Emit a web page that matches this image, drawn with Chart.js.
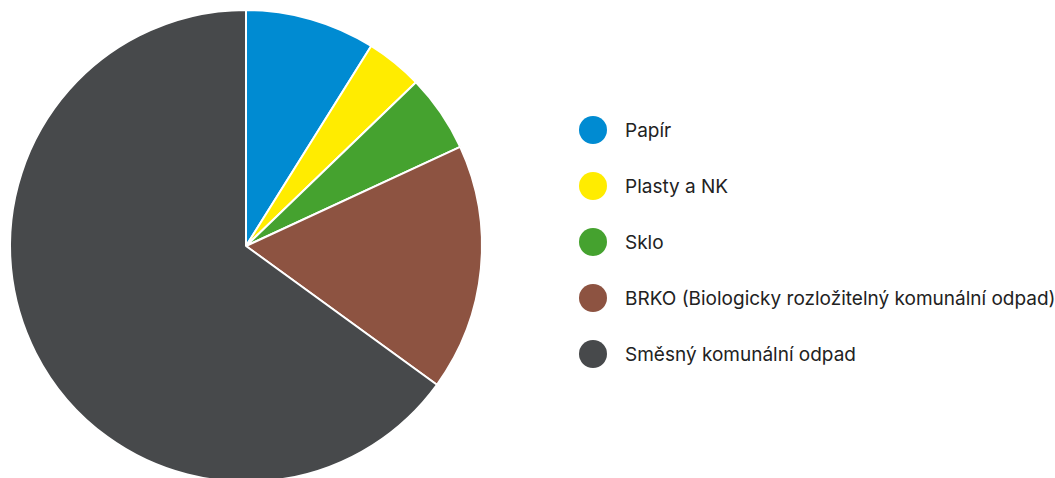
<!DOCTYPE html>
<html>
<head>
<meta charset="utf-8">
<script src="https://cdn.jsdelivr.net/npm/chart.js@4"></script>
<style>
    html, body { margin: 0; padding: 0; background: #fff; overflow: hidden; }
    #wrap { position: relative; width: 1055px; height: 478px; overflow: hidden; }
    #chartBox { position: absolute; left: 0; top: 0; width: 492px; height: 492px; }
    #legend { position: absolute; left: 579px; top: 116px; margin: 0; padding: 0; list-style: none;
        font-family: Inter, Roboto, sans-serif; font-size: 19px; color: #222; }
    #legend li { display: flex; align-items: center; height: 28px; margin-bottom: 28px; white-space: nowrap; }
    #legend span.dot { width: 28px; height: 28px; border-radius: 50%; margin-right: 18px; flex: none; }
</style>
</head>
<body>
<div id="wrap">
    <div id="chartBox"><canvas id="pieChart"></canvas></div>
    <ul id="legend"></ul>
</div>
<script>
const labels = ['Papír', 'Plasty a NK', 'Sklo', 'BRKO (Biologicky rozložitelný komunální odpad)', 'Směsný komunální odpad'];
const values = [8.9, 3.9, 5.3, 16.9, 65.0];
const colors = ['#008bd2', '#ffec00', '#45a22f', '#8d5341', '#47494b'];

const canvas = document.getElementById('pieChart');
if (canvas) {
    const ctx = canvas.getContext('2d');
    new Chart(ctx, {
        type: 'pie',
        data: {
            labels,
            datasets: [{
                data: values,
                backgroundColor: colors,
                borderColor: '#fff',
                borderWidth: 2
            }]
        },
        options: {
            responsive: true,
            maintainAspectRatio: false,
            animation: false,
            layout: {
                padding: 9
            },
            plugins: {
                legend: { display: false },
                tooltip: { enabled: false }
            }
        }
    });
} else {
    console.error('pieChart canvas not found');
}

// legend built from the same arrays
const legend = document.getElementById('legend');
labels.forEach((lbl, i) => {
    const li = document.createElement('li');
    const dot = document.createElement('span');
    dot.className = 'dot';
    dot.style.background = colors[i];
    li.appendChild(dot);
    li.appendChild(document.createTextNode(lbl));
    legend.appendChild(li);
});
</script>
</body>
</html>
